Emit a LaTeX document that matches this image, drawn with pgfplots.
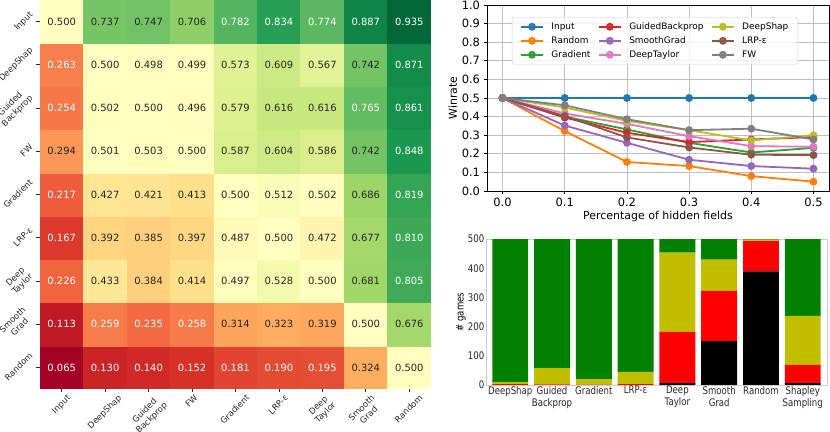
\documentclass[border=0pt]{standalone}
\usepackage{fontspec}
\setmainfont{DejaVu Sans}
\newfontfamily\narrowfont[FakeStretch=0.82]{DejaVu Sans}
\usepackage{graphicx}
\usepackage{pgfplots}
\pgfplotsset{compat=1.18}
\usepackage{pgfplotstable}
\definecolor{cInput}{HTML}{1F77B4}
\definecolor{cRandom}{HTML}{FF7F0E}
\definecolor{cGrad}{HTML}{2CA02C}
\definecolor{cGBP}{HTML}{D62728}
\definecolor{cSG}{HTML}{9467BD}
\definecolor{cDT}{HTML}{E377C2}
\definecolor{cDS}{HTML}{BCBD22}
\definecolor{cLRP}{HTML}{8C564B}
\definecolor{cFW}{HTML}{7F7F7F}
\definecolor{bgreen}{HTML}{008000}
\definecolor{byellow}{HTML}{BFBF00}
\definecolor{dtext}{HTML}{262626}
\newcommand{\rl}[1]{\rotatebox{45}{\begin{tabular}{@{}c@{}}#1\end{tabular}}}
\begin{document}
\begin{tikzpicture}
\path[use as bounding box] (0,0) rectangle (830bp,432bp);
% ---------------- heatmap ----------------
\begin{axis}[
  at={(40bp,43bp)}, anchor=south west, scale only axis,
  width=391bp, height=389bp,
  xmin=-0.5, xmax=8.5, ymin=-0.5, ymax=8.5, enlargelimits=false,
  axis line style={draw=none},
  xtick={0,...,8}, ytick={0,...,8},
  xticklabels={\rl{Input},\rl{DeepShap},\rl{Guided\\Backprop},\rl{FW},\rl{Gradient},\rl{LRP-ε},\rl{Deep\\Taylor},\rl{Smooth\\Grad},\rl{Random}},
  yticklabels={\rl{Random},\rl{Smooth\\Grad},\rl{Deep\\Taylor},\rl{LRP-ε},\rl{Gradient},\rl{FW},\rl{Guided\\Backprop},\rl{DeepShap},\rl{Input}},
  tick align=outside, tick pos=left, major tick length=3.5bp,
  tick style={color=dtext, line width=0.8bp},
  ticklabel style={font=\fontsize{8.5}{10}\selectfont, text=dtext},
  xticklabel style={anchor=north, inner sep=1bp},
  yticklabel style={anchor=east, inner sep=1bp},
  colormap={rdylgn}{rgb255=(165,0,38) rgb255=(215,48,39) rgb255=(244,109,67) rgb255=(253,174,97) rgb255=(254,224,139) rgb255=(255,255,191) rgb255=(217,239,139) rgb255=(166,217,106) rgb255=(102,189,99) rgb255=(26,152,80) rgb255=(0,104,55)},
  point meta min=0.065, point meta max=0.935,
]
\addplot[matrix plot*, mesh/cols=9, point meta=explicit] table[meta=c, row sep=\\] {
x y c\\
0 0 0.065\\ 1 0 0.130\\ 2 0 0.140\\ 3 0 0.152\\ 4 0 0.181\\ 5 0 0.190\\ 6 0 0.195\\ 7 0 0.324\\ 8 0 0.500\\
0 1 0.113\\ 1 1 0.259\\ 2 1 0.235\\ 3 1 0.258\\ 4 1 0.314\\ 5 1 0.323\\ 6 1 0.319\\ 7 1 0.500\\ 8 1 0.676\\
0 2 0.226\\ 1 2 0.433\\ 2 2 0.384\\ 3 2 0.414\\ 4 2 0.497\\ 5 2 0.528\\ 6 2 0.500\\ 7 2 0.681\\ 8 2 0.805\\
0 3 0.167\\ 1 3 0.392\\ 2 3 0.385\\ 3 3 0.397\\ 4 3 0.487\\ 5 3 0.500\\ 6 3 0.472\\ 7 3 0.677\\ 8 3 0.810\\
0 4 0.217\\ 1 4 0.427\\ 2 4 0.421\\ 3 4 0.413\\ 4 4 0.500\\ 5 4 0.512\\ 6 4 0.502\\ 7 4 0.686\\ 8 4 0.819\\
0 5 0.294\\ 1 5 0.501\\ 2 5 0.503\\ 3 5 0.500\\ 4 5 0.587\\ 5 5 0.604\\ 6 5 0.586\\ 7 5 0.742\\ 8 5 0.848\\
0 6 0.254\\ 1 6 0.502\\ 2 6 0.500\\ 3 6 0.496\\ 4 6 0.579\\ 5 6 0.616\\ 6 6 0.616\\ 7 6 0.765\\ 8 6 0.861\\
0 7 0.263\\ 1 7 0.500\\ 2 7 0.498\\ 3 7 0.499\\ 4 7 0.573\\ 5 7 0.609\\ 6 7 0.567\\ 7 7 0.742\\ 8 7 0.871\\
0 8 0.500\\ 1 8 0.737\\ 2 8 0.747\\ 3 8 0.706\\ 4 8 0.782\\ 5 8 0.834\\ 6 8 0.774\\ 7 8 0.887\\ 8 8 0.935\\
};
% white annotations
\addplot[only marks, mark=*, mark size=0pt, mark options={draw=none, fill=none},
  nodes near coords, point meta=explicit symbolic,
  every node near coord/.append style={anchor=center, inner sep=0pt, text=white, font=\fontsize{10}{12}\selectfont}]
  table[meta=t, row sep=\\] {
x y t\\
4 8 0.782\\ 5 8 0.834\\ 6 8 0.774\\ 7 8 0.887\\ 8 8 0.935\\
0 7 0.263\\ 8 7 0.871\\
0 6 0.254\\ 7 6 0.765\\ 8 6 0.861\\
8 5 0.848\\
0 4 0.217\\ 8 4 0.819\\
0 3 0.167\\ 8 3 0.810\\
0 2 0.226\\ 8 2 0.805\\
0 1 0.113\\ 1 1 0.259\\ 2 1 0.235\\ 3 1 0.258\\
0 0 0.065\\ 1 0 0.130\\ 2 0 0.140\\ 3 0 0.152\\ 4 0 0.181\\ 5 0 0.190\\ 6 0 0.195\\
};
% dark annotations
\addplot[only marks, mark=*, mark size=0pt, mark options={draw=none, fill=none},
  nodes near coords, point meta=explicit symbolic,
  every node near coord/.append style={anchor=center, inner sep=0pt, text=dtext, font=\fontsize{10}{12}\selectfont}]
  table[meta=t, row sep=\\] {
x y t\\
0 8 0.500\\ 1 8 0.737\\ 2 8 0.747\\ 3 8 0.706\\
1 7 0.500\\ 2 7 0.498\\ 3 7 0.499\\ 4 7 0.573\\ 5 7 0.609\\ 6 7 0.567\\ 7 7 0.742\\
1 6 0.502\\ 2 6 0.500\\ 3 6 0.496\\ 4 6 0.579\\ 5 6 0.616\\ 6 6 0.616\\
0 5 0.294\\ 1 5 0.501\\ 2 5 0.503\\ 3 5 0.500\\ 4 5 0.587\\ 5 5 0.604\\ 6 5 0.586\\ 7 5 0.742\\
1 4 0.427\\ 2 4 0.421\\ 3 4 0.413\\ 4 4 0.500\\ 5 4 0.512\\ 6 4 0.502\\ 7 4 0.686\\
1 3 0.392\\ 2 3 0.385\\ 3 3 0.397\\ 4 3 0.487\\ 5 3 0.500\\ 6 3 0.472\\ 7 3 0.677\\
1 2 0.433\\ 2 2 0.384\\ 3 2 0.414\\ 4 2 0.497\\ 5 2 0.528\\ 6 2 0.500\\ 7 2 0.681\\
4 1 0.314\\ 5 1 0.323\\ 6 1 0.319\\ 7 1 0.500\\ 8 1 0.676\\
7 0 0.324\\ 8 0 0.500\\
};
\end{axis}
% ---------------- line chart ----------------
\begin{axis}[
  at={(487bp,241bp)}, anchor=south west, scale only axis,
  width=342bp, height=186bp,
  xmin=-0.025, xmax=0.525, ymin=0, ymax=1,
  xtick={0,0.1,0.2,0.3,0.4,0.5},
  ytick={0,0.1,0.2,0.3,0.4,0.5,0.6,0.7,0.8,0.9,1},
  grid=major, grid style={color=gray!50, line width=0.8bp},
  axis line style={line width=0.8bp},
  tick align=outside, tick pos=left, major tick length=3.5bp,
  tick style={line width=0.8bp, color=black},
  /pgf/number format/assume math mode=true,
  ticklabel style={font=\fontsize{11.5}{12}\selectfont},
  xticklabel style={/pgf/number format/fixed, /pgf/number format/fixed zerofill, /pgf/number format/precision=1},
  yticklabel style={/pgf/number format/fixed, /pgf/number format/fixed zerofill, /pgf/number format/precision=1},
  xlabel={Percentage of hidden fields}, ylabel={Winrate},
  label style={font=\fontsize{11}{12}\selectfont},
  xlabel style={yshift=2bp}, ylabel style={yshift=-2bp},
  every axis plot/.append style={line width=1.8bp, mark=*, mark size=3bp},
  legend columns=3, legend cell align=left,
  legend image code/.code={\draw[mark repeat=2, mark phase=2, #1] plot coordinates {(0bp,0bp) (11bp,0bp) (22bp,0bp)};},
  legend style={at={(0.073,0.935)}, anchor=north west, draw=gray!40, rounded corners=2bp,
    fill=white, fill opacity=0.8, text opacity=1, draw opacity=1,
    font=\fontsize{9}{10}\selectfont, inner xsep=8bp, inner ysep=3.5bp, row sep=2bp,
    nodes={inner sep=1.5bp, text height=7bp, text depth=2bp},
    /tikz/every odd column/.append style={column sep=6bp},
    /tikz/every even column/.append style={column sep=6bp}},
]
\addplot[cInput, forget plot] coordinates {(0,0.5) (0.1,0.5) (0.2,0.5) (0.3,0.5) (0.4,0.5) (0.5,0.5)};
\addplot[cRandom, forget plot] coordinates {(0,0.5) (0.1,0.322) (0.2,0.156) (0.3,0.134) (0.4,0.080) (0.5,0.050)};
\addplot[cGrad, forget plot] coordinates {(0,0.5) (0.1,0.400) (0.2,0.331) (0.3,0.259) (0.4,0.207) (0.5,0.232)};
\addplot[cGBP, forget plot] coordinates {(0,0.5) (0.1,0.395) (0.2,0.313) (0.3,0.263) (0.4,0.277) (0.5,0.290)};
\addplot[cSG, forget plot] coordinates {(0,0.5) (0.1,0.352) (0.2,0.259) (0.3,0.168) (0.4,0.134) (0.5,0.120)};
\addplot[cDT, forget plot] coordinates {(0,0.5) (0.1,0.417) (0.2,0.361) (0.3,0.295) (0.4,0.241) (0.5,0.238)};
\addplot[cDS, forget plot] coordinates {(0,0.5) (0.1,0.449) (0.2,0.377) (0.3,0.327) (0.4,0.272) (0.5,0.300)};
\addplot[cLRP, forget plot] coordinates {(0,0.5) (0.1,0.403) (0.2,0.288) (0.3,0.234) (0.4,0.195) (0.5,0.193)};
\addplot[cFW, forget plot] coordinates {(0,0.5) (0.1,0.461) (0.2,0.386) (0.3,0.327) (0.4,0.335) (0.5,0.277)};
\addlegendimage{cInput, line width=1.8bp, mark=*, mark size=3bp}\addlegendentry{Input}
\addlegendimage{cGBP, line width=1.8bp, mark=*, mark size=3bp}\addlegendentry{GuidedBackprop}
\addlegendimage{cDS, line width=1.8bp, mark=*, mark size=3bp}\addlegendentry{DeepShap}
\addlegendimage{cRandom, line width=1.8bp, mark=*, mark size=3bp}\addlegendentry{Random}
\addlegendimage{cSG, line width=1.8bp, mark=*, mark size=3bp}\addlegendentry{SmoothGrad}
\addlegendimage{cLRP, line width=1.8bp, mark=*, mark size=3bp}\addlegendentry{LRP-ε}
\addlegendimage{cGrad, line width=1.8bp, mark=*, mark size=3bp}\addlegendentry{Gradient}
\addlegendimage{cDT, line width=1.8bp, mark=*, mark size=3bp}\addlegendentry{DeepTaylor}
\addlegendimage{cFW, line width=1.8bp, mark=*, mark size=3bp}\addlegendentry{FW}
\end{axis}
% ---------------- stacked bars ----------------
\begin{axis}[
  at={(486bp,47bp)}, anchor=south west, scale only axis,
  width=341bp, height=146bp,
  ybar stacked, bar width=0.86,
  xmin=-0.58, xmax=7.58, ymin=0, ymax=500,
  axis line style={draw=gray!40, line width=0.8bp},
  major tick length=0pt,
  xtick={0,...,7}, ytick={0,100,200,300,400,500},
  xticklabels={DeepShap,{Guided\\Backprop},Gradient,LRP-ε,{Deep\\Taylor},{Smooth\\Grad},Random,{Shapley\\Sampling}},
  /pgf/number format/assume math mode=true,
  ticklabel style={font=\narrowfont\fontsize{10.5}{12}\selectfont, text=dtext},
  xticklabel style={align=center, inner sep=1bp},
  yticklabel style={inner sep=1.5bp},
  ylabel={\# games},
  ylabel style={font=\narrowfont\fontsize{10.5}{12}\selectfont, yshift=-3bp},
]
\addplot[fill=black, draw=none] coordinates {(0,0) (1,0) (2,0) (3,0) (4,6) (5,150) (6,389) (7,6)};
\addplot[fill=red, draw=none] coordinates {(0,3) (1,2) (2,1) (3,3) (4,176) (5,172) (6,104) (7,63)};
\addplot[fill=byellow, draw=none] coordinates {(0,7) (1,56) (2,19) (3,42) (4,271) (5,107) (6,5) (7,168)};
\addplot[fill=bgreen, draw=none] coordinates {(0,490) (1,442) (2,480) (3,455) (4,47) (5,71) (6,2) (7,263)};
\end{axis}
\end{tikzpicture}
\end{document}
